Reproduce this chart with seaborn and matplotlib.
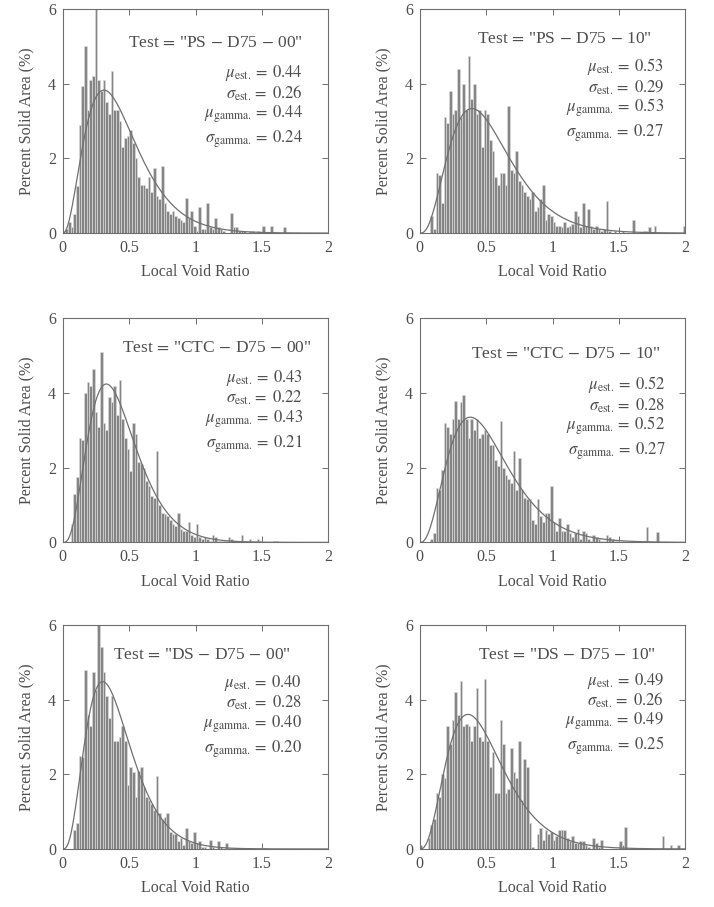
import math
import numpy as np
import pandas as pd
import matplotlib
matplotlib.use('Agg')
import matplotlib.pyplot as plt
import seaborn as sns

# percent solid area per 0.02 void-ratio bin
ps00 = [0.05, 0.1, 0.3, 0.15, 0.5, 1.25, 2.9, 3.95, 5.0, 3.3,
        4.1, 4.2, 6.0, 4.1, 3.8, 4.1, 3.5, 3.2, 4.35, 3.3,
        3.3, 3.0, 2.3, 2.55, 2.6, 2.75, 2.4, 2.0, 1.5, 1.3,
        1.3, 1.2, 1.5, 1.1, 1.75, 1.0, 0.9, 1.8, 0.8, 0.6,
        0.5, 0.6, 0.45, 0.4, 0.35, 0.3, 0.95, 0.4, 0.6, 0.2,
        0.05, 0.7, 0.1, 0.1, 0.8, 0.15, 0.1, 0.4, 0.15, 0.1,
        0.05, 0, 0, 0.55, 0.15, 0.15, 0.05, 0.05, 0.05, 0,
        0.05, 0.05, 0, 0.05, 0, 0.2, 0, 0, 0.2, 0,
        0, 0, 0, 0.15, 0, 0, 0, 0, 0, 0,
        0, 0, 0, 0, 0, 0, 0, 0, 0, 0]
ps10 = [0, 0, 0, 0, 0.45, 0.1, 1.6, 1.55, 0.8, 3.1,
        2.95, 3.8, 3.2, 3.3, 4.4, 3.1, 4.0, 3.3, 4.75, 3.6,
        4.0, 3.2, 3.3, 2.3, 3.3, 3.2, 2.5, 2.2, 1.5, 1.3,
        1.6, 1.6, 1.3, 3.4, 1.7, 1.6, 2.2, 1.4, 1.3, 1.1,
        1.0, 0.9, 1.1, 0.6, 0.7, 0.9, 1.3, 0.35, 0.5, 0.45,
        0.3, 0.2, 0.2, 0.15, 0.3, 0.15, 0.2, 0.25, 0.6, 0.45,
        0.15, 0.8, 0.2, 0.65, 0.2, 0.1, 0.2, 0.1, 0.05, 0.1,
        0.85, 0.05, 0, 0.05, 0, 0, 0.05, 0, 0, 0,
        0.35, 0, 0, 0, 0.05, 0.05, 0.15, 0, 0.2, 0,
        0, 0, 0, 0, 0, 0, 0, 0, 0, 0.2]
ctc00 = [0, 0, 0, 0.5, 1.3, 1.75, 2.8, 2.75, 4.0, 4.3,
         4.2, 4.65, 3.5, 3.1, 5.1, 3.2, 3.0, 3.9, 3.75, 4.2,
         3.4, 4.35, 3.3, 2.8, 2.5, 1.9, 3.2, 2.9, 2.15, 2.1,
         2.0, 1.65, 1.5, 1.25, 1.2, 2.45, 1.0, 0.8, 0.75, 0.7,
         0.6, 0.5, 0.45, 0.8, 0.35, 0.3, 0.3, 0.55, 0.2, 0.15,
         0.5, 0.15, 0.1, 0.15, 0.1, 0.05, 0.2, 0.15, 0.05, 0.05,
         0.05, 0.05, 0.15, 0.1, 0.05, 0.05, 0.05, 0.2, 0.05, 0.05,
         0.1, 0.05, 0.05, 0.1, 0.05, 0, 0, 0, 0, 0.05,
         0.05, 0, 0, 0, 0, 0, 0, 0, 0, 0,
         0, 0, 0, 0, 0, 0, 0, 0, 0, 0]
ctc10 = [0, 0, 0, 0, 0.1, 0.25, 1.45, 1.4, 1.95, 3.2,
         3.1, 2.9, 3.3, 3.8, 3.3, 3.75, 3.95, 3.3, 2.8, 3.3,
         3.0, 3.3, 2.8, 2.9, 3.0, 2.9, 2.6, 2.6, 2.2, 2.05,
         3.25, 2.0, 1.8, 1.7, 1.6, 2.45, 1.4, 2.25, 1.4, 1.2,
         1.15, 1.15, 0.6, 0.5, 1.15, 0.7, 0.55, 0.8, 0.8, 1.5,
         0.55, 0.3, 0.65, 0.3, 0.3, 0.5, 0.25, 0.15, 0.25, 0.35,
         0.1, 0.3, 0.25, 0.1, 0.05, 0.2, 0.15, 0.1, 0.05, 0.05,
         0.2, 0.15, 0.1, 0.05, 0.05, 0, 0.05, 0, 0, 0,
         0, 0.05, 0.05, 0, 0.05, 0.4, 0.05, 0, 0, 0.28,
         0, 0, 0, 0, 0, 0, 0, 0, 0, 0]
ds00 = [0, 0, 0, 0, 0.5, 0.7, 2.5, 2.45, 4.8, 3.6,
        3.3, 4.75, 4.25, 6.0, 5.4, 4.75, 4.1, 3.5, 4.1, 2.9,
        2.9, 3.0, 3.3, 2.9, 1.7, 2.2, 2.05, 1.4, 2.1, 2.2,
        1.65, 1.4, 1.3, 1.2, 1.05, 1.95, 0.95, 0.8, 0.85, 0.95,
        0.45, 0.4, 0.4, 0.2, 0.3, 0.1, 0.55, 0.2, 0.15, 0.45,
        0.15, 0.2, 0.05, 0.05, 0, 0.25, 0.05, 0, 0.2, 0.05,
        0, 0.15, 0.02, 0.02, 0.02, 0.02, 0.02, 0.02, 0.02, 0.02,
        0.02, 0.02, 0.02, 0.02, 0.02, 0.02, 0.02, 0, 0, 0,
        0, 0, 0, 0, 0, 0, 0, 0, 0, 0,
        0, 0, 0, 0, 0, 0, 0, 0, 0, 0]
ds10 = [0.1, 0, 0, 0.3, 0.65, 0.8, 1.5, 1.4, 2.0, 1.9,
        3.3, 2.8, 3.45, 4.2, 3.6, 4.5, 3.3, 3.35, 3.3, 2.9,
        3.3, 4.3, 3.0, 2.9, 4.55, 2.9, 2.2, 2.6, 1.5, 1.5,
        3.45, 2.8, 1.5, 1.6, 2.7, 2.05, 1.9, 2.9, 1.3, 2.4,
        2.2, 0.7, 0.05, 0, 0.4, 0.55, 0.25, 0.5, 0.4, 0.45,
        0.25, 0.35, 0.5, 0.5, 0.5, 0.3, 0.2, 0.35, 0.15, 0.15,
        0.2, 0.2, 0.1, 0.05, 0, 0.3, 0.15, 0.05, 0.25, 0,
        0, 0, 0, 0, 0, 0.2, 0.1, 0.6, 0, 0,
        0, 0, 0, 0, 0, 0, 0, 0, 0, 0,
        0, 0.35, 0, 0, 0.1, 0, 0, 0.1, 0, 0]

tests = ['PS', 'PS', 'CTC', 'CTC', 'DS', 'DS']
codes = ['00', '10', '00', '10', '00', '10']
mu_est = [0.44, 0.53, 0.43, 0.52, 0.40, 0.49]
sd_est = [0.26, 0.29, 0.22, 0.28, 0.28, 0.26]
mu_gam = [0.44, 0.53, 0.43, 0.52, 0.40, 0.49]
sd_gam = [0.24, 0.27, 0.21, 0.27, 0.20, 0.25]
hists = [ps00, ps10, ctc00, ctc10, ds00, ds10]

nbins = 100
binw = 2.0 / nbins
centers = (np.arange(nbins) + 0.5) * binw


def gamma_pct(x, mu, sd):
    # fitted gamma pdf, scaled to percent per bin
    k = (mu / sd) ** 2
    th = sd ** 2 / mu
    logp = (k - 1) * np.log(x) - x / th - math.lgamma(k) - k * math.log(th)
    return 100 * binw * np.exp(logp)


sns.set_style('ticks')
plt.rcParams['font.family'] = ['Liberation Serif', 'DejaVu Serif']
plt.rcParams['mathtext.fontset'] = 'stix'
txt = '#4d4d4d'
frame = '#6e6e6e'

fig = plt.figure(figsize=(7.14, 9.07), dpi=100)
lefts = [0.088, 0.588]
bottoms = [0.743, 0.402, 0.064]
test_x = [1.15, 1.09, 1.16, 1.10, 1.05, 1.11]
test_y = [5.2, 5.3, 5.3, 5.15, 5.3, 5.3]
stat_y0 = [4.17, 4.33, 4.30, 4.10, 4.34, 4.40]
stat_x = [1.81, 1.84, 1.81, 1.85, 1.80, 1.84]

xs = np.linspace(0.001, 2, 400)

for i in range(6):
    ax = fig.add_axes([lefts[i % 2], bottoms[i // 2], 0.372, 0.247])
    df = pd.DataFrame({'e': centers, 'pct': hists[i]})
    sns.histplot(data=df, x='e', weights='pct', bins=nbins, binrange=(0, 2),
                 ax=ax, color='#858585', edgecolor='#dcdcdc', linewidth=0.45,
                 alpha=1)
    sns.lineplot(x=xs, y=gamma_pct(xs, mu_gam[i], sd_gam[i]), ax=ax,
                 color='#707070', linewidth=0.9)

    ax.set_xlim(0, 2)
    ax.set_ylim(0, 6)
    ax.set_xticks([0, 0.5, 1, 1.5, 2])
    ax.set_xticklabels(['0', '0.5', '1', '1.5', '2'])
    ax.set_yticks([0, 2, 4, 6])
    ax.tick_params(direction='in', top=True, right=True, length=4, width=0.7,
                   color=frame, labelcolor=txt, labelsize=11.5, pad=5)
    for s in ax.spines.values():
        s.set_color(frame)
        s.set_linewidth(0.8)
    ax.set_xlabel('Local Void Ratio', fontsize=11.5, color=txt, labelpad=6)
    ax.set_ylabel('Percent Solid Area (%)', fontsize=11.5, color=txt, labelpad=10)

    label = 'Test$\\,=\\,$"%s$\\,-\\,$D75$\\,-\\,$%s"' % (tests[i], codes[i])
    ax.text(test_x[i], test_y[i] - 0.1, label, ha='center', va='center',
            fontsize=12.5, color=txt)
    lines = [r'$\mu_{\mathrm{est.}} =\; %.2f$' % mu_est[i],
             r'$\sigma_{\mathrm{est.}} =\; %.2f$' % sd_est[i],
             r'$\mu_{\mathrm{gamma.}} =\; %.2f$' % mu_gam[i],
             r'$\sigma_{\mathrm{gamma.}} =\; %.2f$' % sd_gam[i]]
    for j, dy in enumerate([0, -0.56, -1.08, -1.75]):
        ax.text(stat_x[i], stat_y0[i] + dy, lines[j], ha='right',
                va='baseline', fontsize=12, color=txt)

fig.savefig('out.png', dpi=100, facecolor='white')
